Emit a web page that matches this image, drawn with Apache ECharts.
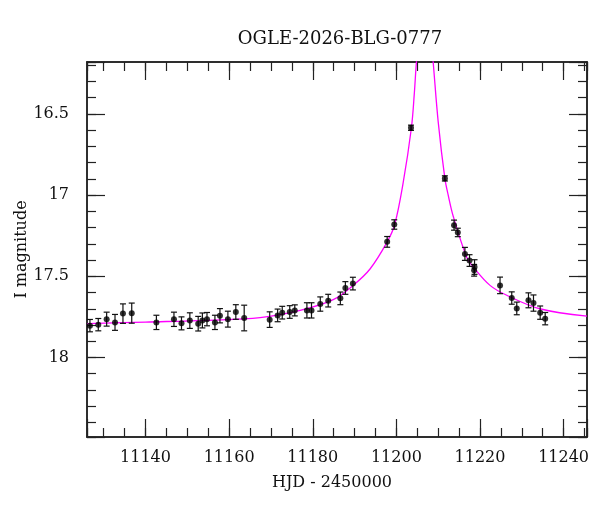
<!DOCTYPE html>
<html>
<head>
<meta charset="utf-8">
<script src="https://cdn.jsdelivr.net/npm/echarts@6/dist/echarts.min.js"></script>
<style>
  html, body { margin: 0; padding: 0; background: #fff; }
  #chart { width: 600px; height: 512px; }
</style>
</head>
<body>
<div id="chart"></div>
<script>
// 观测点 (HJD - 2450000, I 星等, 误差)
var days = [11126.7, 11128.7, 11130.7, 11132.7, 11134.6, 11136.7, 11142.6, 11146.8, 11148.6, 11150.6,
    11152.6, 11153.6, 11154.7, 11156.6, 11157.8, 11159.7, 11161.6, 11163.6, 11169.7, 11171.6,
    11172.7, 11174.5, 11175.7, 11178.6, 11179.7, 11181.8, 11183.7, 11186.6, 11187.8, 11189.6,
    11197.8, 11199.5, 11203.5, 11211.6, 11213.8, 11214.7, 11216.4, 11217.5, 11218.7, 11218.6,
    11224.8, 11227.6, 11228.8, 11231.6, 11232.8, 11234.4, 11235.6]
var mags = [17.804, 17.798, 17.764, 17.784, 17.730, 17.727, 17.784, 17.765, 17.790, 17.773,
    17.792, 17.772, 17.764, 17.784, 17.743, 17.764, 17.720, 17.757, 17.767, 17.741,
    17.724, 17.720, 17.710, 17.710, 17.710, 17.671, 17.650, 17.636, 17.572, 17.545,
    17.288, 17.181, 16.585, 16.897, 17.185, 17.230, 17.362, 17.403, 17.443, 17.463,
    17.556, 17.634, 17.698, 17.648, 17.665, 17.724, 17.761]
var errs = [0.038, 0.038, 0.043, 0.049, 0.060, 0.062, 0.044, 0.044, 0.040, 0.048,
    0.045, 0.046, 0.041, 0.044, 0.044, 0.049, 0.045, 0.079, 0.048, 0.039,
    0.039, 0.039, 0.034, 0.047, 0.047, 0.044, 0.039, 0.039, 0.039, 0.039,
    0.033, 0.029, 0.016, 0.016, 0.031, 0.026, 0.040, 0.036, 0.045, 0.036,
    0.051, 0.038, 0.039, 0.046, 0.050, 0.041, 0.038]
// 模型曲线
var modelDays = [11126.1, 11140, 11155, 11167.4, 11177.0, 11184.9, 11189.7, 11193.7, 11197.8, 11199.6,
    11201.6, 11203.6, 11204.3, 11204.8, 11206.8, 11208.8, 11210.0, 11211.6, 11212.4, 11213.6,
    11216.8, 11218.4, 11222.4, 11226.4, 11234.3, 11245.6]
var modelMags = [17.792, 17.782, 17.771, 17.755, 17.710, 17.644, 17.555, 17.455, 17.288, 17.181,
    16.928, 16.585, 16.372, 16.18, 15.6, 16.18, 16.547, 16.897, 17.0, 17.13,
    17.381, 17.443, 17.556, 17.617, 17.700, 17.745]

var xMin = 11126, xMax = 11245.6
var yMin = 16.18, yMax = 18.49
var font = 'DejaVu Serif'
var ink = '#222'

function isMult(v, step) {
    return Math.abs(v / step - Math.round(v / step)) < 1e-6
}

function xAxisOf(pos, step, len, withLabel) {
    return {
        type: 'value', position: pos, min: xMin, max: xMax,
        splitNumber: Math.round((xMax - xMin) / step), minInterval: step, maxInterval: step,
        axisLine: { show: true, onZero: false, lineStyle: { color: ink, width: 1.5 } },
        axisTick: { show: true, inside: true, length: len, lineStyle: { color: ink, width: 1.2 } },
        splitLine: { show: false },
        axisLabel: {
            show: withLabel, margin: 13, fontFamily: font, fontSize: 16, color: '#111',
            formatter: function (v) { return isMult(v, 20) ? String(Math.round(v)) : '' }
        },
        name: withLabel ? 'HJD - 2450000' : '',
        nameLocation: 'middle', nameGap: 38,
        nameTextStyle: { fontFamily: font, fontSize: 16, color: '#111', padding: [0, 10, 0, 0] }
    }
}

function yAxisOf(pos, step, len, withLabel) {
    return {
        type: 'value', position: pos, inverse: true, min: yMin, max: yMax,
        splitNumber: Math.round((yMax - yMin) / step), minInterval: step, maxInterval: step,
        axisLine: { show: true, onZero: false, lineStyle: { color: ink, width: 1.5 } },
        axisTick: { show: true, inside: true, length: len, lineStyle: { color: ink, width: 1.2 } },
        splitLine: { show: false },
        axisLabel: {
            show: withLabel, margin: 18, fontFamily: font, fontSize: 16, color: '#111',
            formatter: function (v) { return isMult(v, 0.5) ? String(Math.round(v * 10) / 10) : '' }
        },
        name: withLabel ? 'I magnitude' : '',
        nameLocation: 'middle', nameGap: 57, nameRotate: 90, nameMoveOverlap: false,
        nameTextStyle: { fontFamily: font, fontSize: 16, color: '#111' }
    }
}

var points = days.map(function (d, i) { return [d, mags[i]] })
var bars = days.map(function (d, i) { return [d, mags[i] - errs[i], mags[i] + errs[i]] })
var model = modelDays.map(function (d, i) { return [d, modelMags[i]] })

var option = {
    animation: false,
    title: {
        text: 'OGLE-2026-BLG-0777',
        left: 335, top: 25, textAlign: 'center',
        textStyle: { fontFamily: font, fontSize: 18, fontWeight: 'normal', color: '#111' }
    },
    grid: { left: 87, right: 13, top: 62, bottom: 75, containLabel: false },
    xAxis: [
        xAxisOf('bottom', 5, 9, true),
        xAxisOf('bottom', 20, 18, false),
        xAxisOf('top', 5, 9, false),
        xAxisOf('top', 20, 18, false)
    ],
    yAxis: [
        yAxisOf('left', 0.1, 9, true),
        yAxisOf('left', 0.5, 18, false),
        yAxisOf('right', 0.1, 9, false),
        yAxisOf('right', 0.5, 18, false)
    ],
    series: [
        {
            type: 'line',
            data: model,
            showSymbol: false,
            smooth: 0.35,
            clip: true,
            lineStyle: { color: '#ff00ff', width: 1.3 },
            z: 2
        },
        {
            type: 'custom',
            data: bars,
            clip: true,
            renderItem: function (params, api) {
                var top = api.coord([api.value(0), api.value(1)])
                var bot = api.coord([api.value(0), api.value(2)])
                var w = 3
                var st = { stroke: '#111', lineWidth: 1.2 }
                return {
                    type: 'group',
                    children: [
                        { type: 'line', shape: { x1: top[0], y1: top[1], x2: bot[0], y2: bot[1] }, style: st },
                        { type: 'line', shape: { x1: top[0] - w, y1: top[1], x2: top[0] + w, y2: top[1] }, style: st },
                        { type: 'line', shape: { x1: bot[0] - w, y1: bot[1], x2: bot[0] + w, y2: bot[1] }, style: st }
                    ]
                }
            },
            z: 3
        },
        {
            type: 'scatter',
            data: points,
            symbol: 'circle',
            symbolSize: 6,
            itemStyle: { color: '#000' },
            z: 4
        }
    ]
}

var chart = echarts.init(document.getElementById('chart'))
chart.setOption(option)
</script>
</body>
</html>
